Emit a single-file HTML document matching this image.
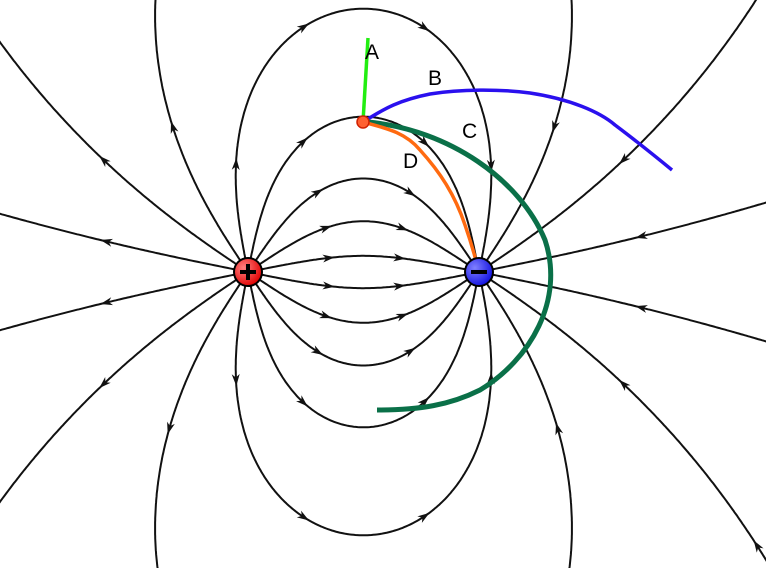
<!DOCTYPE html>
<html><head><meta charset="utf-8">
<style>
html,body{margin:0;padding:0;background:#fff;overflow:hidden;width:766px;height:568px;}
svg{display:block;overflow:hidden;}
text{font-family:"Liberation Sans",sans-serif;font-size:21px;fill:#000;}
</style></head>
<body>
<svg id="s" width="766" height="568" viewBox="0 0 766 568" xmlns="http://www.w3.org/2000/svg">
<defs>
<radialGradient id="rg" cx="0.35" cy="0.35" r="0.7"><stop offset="0" stop-color="#ff8080"/><stop offset="1" stop-color="#e00000"/></radialGradient>
<radialGradient id="bg" cx="0.35" cy="0.35" r="0.7"><stop offset="0" stop-color="#8080ff"/><stop offset="1" stop-color="#1010e0"/></radialGradient>
<clipPath id="cp"><rect x="0" y="0" width="766" height="568"/></clipPath>
</defs>
<g clip-path="url(#cp)">
<g id="lines" fill="none" stroke="#111" stroke-width="2"></g>
<g id="arrows" fill="#111"></g>
</g>
<path d="M363 122 L368 38" stroke="#22ee11" stroke-width="3.5" fill="none"/>
<path d="M363 122 C385 108 400 100 430 94 C460 89 500 89 530 93 C570 99 600 112 615 125 C635 140 650 152 672 170" stroke="#2a10ee" stroke-width="3.5" fill="none"/>
<path d="M368 122 C450 130 520 180 545 240 C565 300 530 360 480 390 C450 405 420 410 377 410" stroke="#0a7048" stroke-width="5" fill="none"/>
<path d="M363 122 C385 128 405 132 420 150 C440 172 455 195 465 225 C472 245 476 260 479 272" stroke="#ff6a10" stroke-width="3.5" fill="none"/>
<circle cx="363" cy="122" r="6" fill="#ff6030" stroke="#d02000" stroke-width="1.5"/>
<circle cx="248" cy="272" r="14" fill="url(#rg)" stroke="#000" stroke-width="2"/>
<path d="M240 272 H256 M248 264 V280" stroke="#000" stroke-width="4"/>
<circle cx="479" cy="272" r="14" fill="url(#bg)" stroke="#000" stroke-width="2"/>
<path d="M471 272 H487" stroke="#000" stroke-width="4"/>
<text x="365" y="59">A</text>
<text x="428" y="85">B</text>
<text x="462" y="138">C</text>
<text x="403" y="168">D</text>
</svg>
<script>
(function(){
var P={x:248,y:272},N={x:479,y:272},R=13;
function E(x,y){
 var dx=x-P.x,dy=y-P.y,r=Math.pow(dx*dx+dy*dy,1.5);
 var ex=dx/r,ey=dy/r;
 dx=x-N.x;dy=y-N.y;r=Math.pow(dx*dx+dy*dy,1.5);
 ex-=dx/r;ey-=dy/r;
 var m=Math.hypot(ex,ey);return [ex/m,ey/m];
}
function trace(c,other,ang,sgn){
 var x=c.x+R*Math.cos(ang),y=c.y+R*Math.sin(ang),pts=[[x,y]],end='none';
 for(var i=0;i<8000;i++){
  var e=E(x,y);var mx=x+0.5*sgn*e[0],my=y+0.5*sgn*e[1];
  var e2=E(mx,my);x+=sgn*e2[0];y+=sgn*e2[1];pts.push([x,y]);
  if(Math.hypot(x-other.x,y-other.y)<R){end='charge';break;}
  if(x<-20||x>786||y<-20||y>588){end='out';break;}
 }
 return {pts:pts,end:end};
}
var L=document.getElementById('lines'),A=document.getElementById('arrows'),ns='http://www.w3.org/2000/svg';
function draw(pts){
 var d='M'+pts[0][0].toFixed(1)+' '+pts[0][1].toFixed(1);
 for(var i=2;i<pts.length;i+=2)d+='L'+pts[i][0].toFixed(1)+' '+pts[i][1].toFixed(1);
 var p=document.createElementNS(ns,'path');p.setAttribute('d',d);L.appendChild(p);
}
function arrow(pts,idx,dir){
 idx=Math.max(2,Math.min(pts.length-3,Math.round(idx)));
 var a=pts[idx],b=pts[idx+2]||pts[idx+1];
 var dx=(b[0]-a[0])*dir,dy=(b[1]-a[1])*dir,m=Math.hypot(dx,dy);dx/=m;dy/=m;
 var tx=a[0]+dx*6,ty=a[1]+dy*6,bx=a[0]-dx*6,by=a[1]-dy*6;
 var d='M'+tx+' '+ty+'L'+(bx-dy*4)+' '+(by+dx*4)+'L'+(a[0]-dx*2.5)+' '+(a[1]-dy*2.5)+'L'+(bx+dy*4)+' '+(by-dx*4)+'Z';
 var p=document.createElementNS(ns,'path');p.setAttribute('d',d);A.appendChild(p);
}
var n=16;
for(var k=0;k<n;k++){
 var ang=(k+0.5)*2*Math.PI/n;
 var t=trace(P,N,ang,1);
 draw(t.pts);
 var len=t.pts.length;
 if(t.end==='charge'){
  if(len>600){arrow(t.pts,len*0.15,1);arrow(t.pts,len*0.4,1);arrow(t.pts,len*0.6,1);arrow(t.pts,len*0.85,1);}
  else {arrow(t.pts,len*0.33,1);arrow(t.pts,len*0.67,1);}
 } else {arrow(t.pts,Math.min(170,len*0.5),1);if(len>420)arrow(t.pts,380,1);}
 var t2=trace(N,P,Math.PI-ang,-1);
 if(t2.end!=='charge'){
  draw(t2.pts);var l2=t2.pts.length;
  arrow(t2.pts,Math.min(170,l2*0.5),-1);if(l2>420)arrow(t2.pts,380,-1);
 }
}
})();
</script>
</body></html>
